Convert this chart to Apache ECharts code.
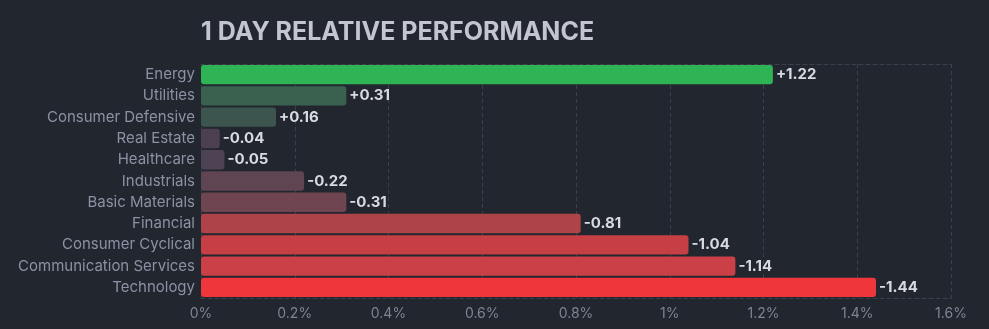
<!DOCTYPE html>
<html>
<head>
<meta charset="utf-8">
<script src="https://cdn.jsdelivr.net/npm/echarts@6/dist/echarts.min.js"></script>
<style>
  html, body { margin: 0; padding: 0; background: #22262f; }
  #chart { width: 989px; height: 329px; }
</style>
</head>
<body>
<div id="chart"></div>
<script>
// Sector performance for one trading day (percent change)
const sectors = ['Energy', 'Utilities', 'Consumer Defensive', 'Real Estate', 'Healthcare',
  'Industrials', 'Basic Materials', 'Financial', 'Consumer Cyclical',
  'Communication Services', 'Technology'];
const changes = [1.22, 0.31, 0.16, -0.04, -0.05, -0.22, -0.31, -0.81, -1.04, -1.14, -1.44];
const barColors = ['#2eb454', '#3a6150', '#3d554f', '#4b3f50', '#4e4355', '#5f4452',
  '#6e4551', '#af434a', '#c63f45', '#cb4047', '#ee363b'];
const xTicks = [0, 0.2, 0.4, 0.6, 0.8, 1, 1.2, 1.4, 1.6];

const chart = echarts.init(document.getElementById('chart'), null, { renderer: 'canvas' });
const font = 'Inter, "Noto Sans", sans-serif';
const gridLine = { color: '#3b404b', type: [4, 3], width: 1 };

chart.setOption({
  backgroundColor: '#22262f',
  animation: false,
  title: {
    text: '1 DAY RELATIVE PERFORMANCE',
    left: 196, top: 15,
    textStyle: { color: '#c3c5d1', fontFamily: font, fontWeight: 'bold', fontSize: 25 }
  },
  grid: { left: 201, right: 38, top: 64, bottom: 31, containLabel: false },
  xAxis: [{
    type: 'value', min: 0, max: 1.6, interval: 0.2,
    axisLine: { show: true, lineStyle: gridLine },
    axisTick: { show: false },
    splitLine: { show: true, lineStyle: gridLine },
    axisLabel: {
      color: '#7e8396', fontFamily: font, fontSize: 14, margin: 9,
      formatter: v => {
        const t = xTicks.find(x => Math.abs(x - v) < 1e-6);
        return (t === undefined ? v : +t.toFixed(1)) + '%';
      }
    }
  }, {
    type: 'value', position: 'top', min: 0, max: 1.6, interval: 0.2,
    axisLine: { show: true, lineStyle: gridLine },
    axisTick: { show: false }, axisLabel: { show: false }, splitLine: { show: false }
  }],
  yAxis: {
    type: 'category', inverse: true, data: sectors,
    axisLine: { show: false }, axisTick: { show: false },
    axisLabel: { color: '#8c91a5', fontFamily: font, fontSize: 15, margin: 6 }
  },
  series: [{
    type: 'bar',
    barCategoryGap: '9%',
    data: changes.map((v, i) => ({
      value: Math.abs(v),
      itemStyle: { color: barColors[i], borderRadius: 3 },
      label: { formatter: (v > 0 ? '+' : '') + v.toFixed(2) }
    })),
    label: {
      show: true, position: 'right', distance: 3,
      color: '#d8dae2', fontFamily: font, fontWeight: 'bold', fontSize: 15
    }
  }]
});
</script>
</body>
</html>
